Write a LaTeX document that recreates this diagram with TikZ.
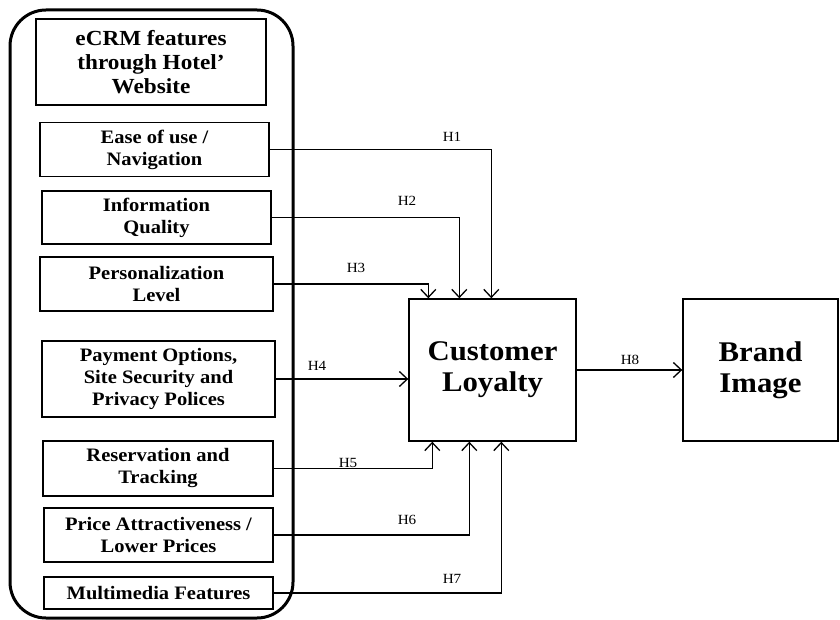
\documentclass[tikz,border=0pt]{standalone}
\usepackage{fontspec}
\setmainfont[FakeStretch=1.08]{Liberation Serif}
\usetikzlibrary{arrows.meta}
\begin{document}
\begin{tikzpicture}[x=1pt,y=-1pt,
  box/.style={draw,line width=1.4pt,inner sep=0pt,align=center,font=\bfseries\fontsize{19}{22}\selectfont},
  big/.style={draw,line width=1.4pt,inner sep=0pt,align=center,font=\bfseries\fontsize{28.5}{31}\selectfont},
  conn/.style={line width=1.3pt,-{Straight Barb[length=8pt,width=15pt,line width=1.3pt]}},
  hlab/.style={font=\fontsize{14}{16}\selectfont,inner sep=0pt}]
\useasboundingbox (0,0) rectangle (840,620);
\draw[line width=3pt,rounded corners=36pt] (10,10) rectangle (293,618);
\node[box,minimum width=230pt,minimum height=86pt,font=\bfseries\fontsize{21.5}{24}\selectfont] (title) at (151,62) {eCRM features\\through Hotel’\\Website};
\node[box,minimum width=229pt,minimum height=54pt] (ease) at (154.5,149.5) {Ease of use /\\Navigation};
\node[box,minimum width=229pt,minimum height=53pt] (info) at (156.5,217.5) {Information\\Quality};
\node[box,minimum width=233pt,minimum height=54pt] (pers) at (156.5,284) {Personalization\\Level};
\node[box,minimum width=233pt,minimum height=76pt] (pay) at (158.5,379) {Payment Options,\\Site Security and\\Privacy Polices};
\node[box,minimum width=230pt,minimum height=55pt] (res) at (158,468.5) {Reservation and\\Tracking};
\node[box,minimum width=229pt,minimum height=54pt] (price) at (158.5,535) {Price Attractiveness /\\Lower Prices};
\node[box,minimum width=229pt,minimum height=32pt] (multi) at (158.5,593) {Multimedia Features};
\node[big,minimum width=167pt,minimum height=142pt] (cl) at (492.5,370) {Customer\\Loyalty};
\node[big,minimum width=155pt,minimum height=142pt] (bi) at (760.5,370) {Brand\\Image};
\draw[conn] (ease.east) -| ([xshift=83pt]cl.north west);
\draw[conn] (info.east) -| ([xshift=51pt]cl.north west);
\draw[conn] (pers.east) -| ([xshift=20pt]cl.north west);
\draw[conn] (pay.east) -- (pay.east -| cl.west);
\draw[conn] (res.east) -| ([xshift=24pt]cl.south west);
\draw[conn] (price.east) -| ([xshift=61pt]cl.south west);
\draw[conn] (multi.east) -| ([xshift=93pt]cl.south west);
\draw[conn] (cl.east) -- (bi.west);
\node[hlab] (h1) at (452,137) {H1};
\node[hlab] (h2) at (407,201) {H2};
\node[hlab] (h3) at (356,268) {H3};
\node[hlab] (h4) at (317,366) {H4};
\node[hlab] (h5) at (348,463) {H5};
\node[hlab] (h6) at (407,520) {H6};
\node[hlab] (h7) at (452,579) {H7};
\node[hlab] (h8) at (630,360) {H8};
\end{tikzpicture}
\end{document}
